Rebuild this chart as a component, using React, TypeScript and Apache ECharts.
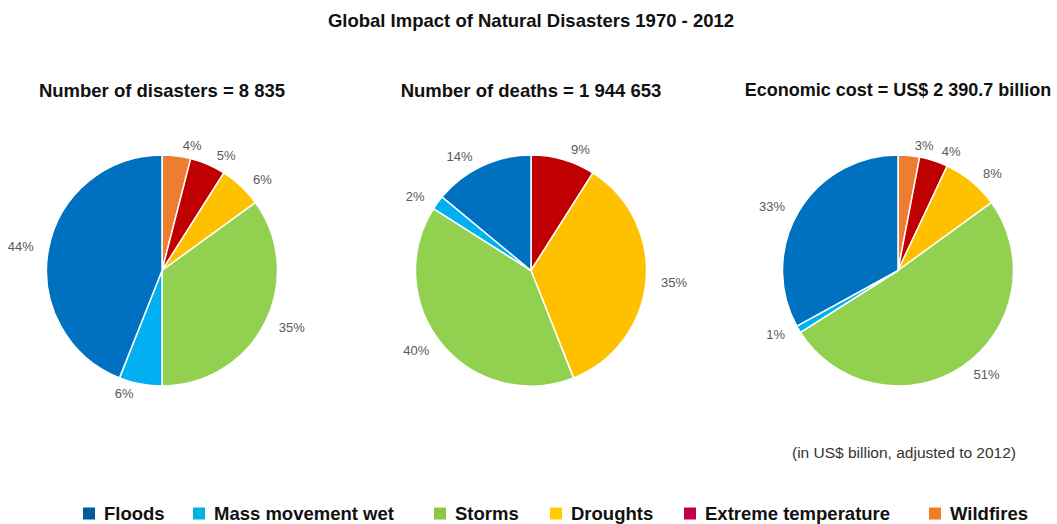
import React, { useEffect, useRef } from "react";
import * as echarts from "echarts";

const categories = ["Wildfires", "Extreme temperature", "Droughts", "Storms", "Mass movement wet", "Floods"];
const legendOrder = ["Floods", "Mass movement wet", "Storms", "Droughts", "Extreme temperature", "Wildfires"];
const disastersPct = [4, 5, 6, 35, 6, 44];
const deathsPct = [0, 9, 35, 40, 2, 14];
const costPct = [3, 4, 8, 51, 1, 33];
const pieTitles = [
  "Number of disasters = 8 835",
  "Number of deaths = 1 944 653",
  "Economic cost = US$ 2 390.7 billion",
];
const mainTitle = "Global Impact of Natural Disasters 1970 - 2012";
const note = "(in US$ billion, adjusted to 2012)";

const sliceColors: Record<string, string> = {
  Floods: "#0070C0",
  "Mass movement wet": "#00B0F0",
  Storms: "#92D050",
  Droughts: "#FFC000",
  "Extreme temperature": "#C00000",
  Wildfires: "#ED7D31",
};
const legendColors: Record<string, string> = {
  Floods: "#005A9C",
  "Mass movement wet": "#00B4E0",
  Storms: "#8DC63F",
  Droughts: "#FFCC00",
  "Extreme temperature": "#C0004F",
  Wildfires: "#F47B20",
};

const FONT = "Liberation Sans, Arial, sans-serif";

export default function App() {
  const ref = useRef<HTMLDivElement>(null);
  useEffect(() => {
    if (!ref.current) return;
    const chart = echarts.init(ref.current, undefined, { renderer: "svg" });
    const centersX = [162, 531, 898];
    const titleSizes = [18.5, 18.5, 18];
    const datasets = [disastersPct, deathsPct, costPct];
    const series = datasets.map((vals, i) => ({
      type: "pie",
      name: pieTitles[i],
      center: [centersX[i], 270.5],
      radius: 115.5,
      startAngle: 90,
      clockwise: true,
      avoidLabelOverlap: false,
      itemStyle: { borderColor: "#fff", borderWidth: 1.5 },
      label: {
        show: true,
        position: "outside",
        formatter: "{c}%",
        color: "#595959",
        fontSize: 13,
        fontFamily: FONT,
      },
      labelLine: { show: false, length: 10, length2: 0 },
      emphasis: { disabled: true },
      data: categories
        .map((c, j) => ({
          name: c,
          value: vals[j],
          itemStyle: { color: sliceColors[c] },
        }))
        .filter((d) => d.value > 0),
    }));
    const legendLefts = [81, 191, 432, 548, 682, 927];
    chart.setOption({
      animation: false,
      backgroundColor: "#fff",
      title: [
        {
          text: mainTitle,
          left: 531,
          top: 11,
          padding: 0,
          textAlign: "center",
          textStyle: { fontSize: 18.5, fontWeight: "bold", color: "#111", fontFamily: FONT },
        },
        ...pieTitles.map((t, i) => ({
          text: t,
          left: centersX[i],
          top: 81,
          padding: 0,
          textAlign: "center",
          textStyle: { fontSize: titleSizes[i], fontWeight: "bold", color: "#111", fontFamily: FONT },
        })),
        {
          text: note,
          left: 904,
          top: 444,
          padding: 0,
          textAlign: "center",
          textStyle: { fontSize: 15.5, fontWeight: "normal", color: "#333", fontFamily: FONT },
        },
      ],
      legend: legendOrder.map((n, i) => ({
        left: legendLefts[i],
        top: 504,
        padding: 0,
        itemWidth: 14,
        itemHeight: 14,
        icon: "rect",
        selectedMode: false,
        textStyle: { fontSize: 18.5, fontWeight: "bold", color: "#111", fontFamily: FONT, padding: [0, 0, 0, 3] },
        data: [{ name: n, itemStyle: { color: legendColors[n] } }],
      })),
      series,
    });
    return () => chart.dispose();
  }, []);
  return <div ref={ref} style={{ position: "fixed", left: 0, top: 0, width: 1057, height: 524 }} />;
}
